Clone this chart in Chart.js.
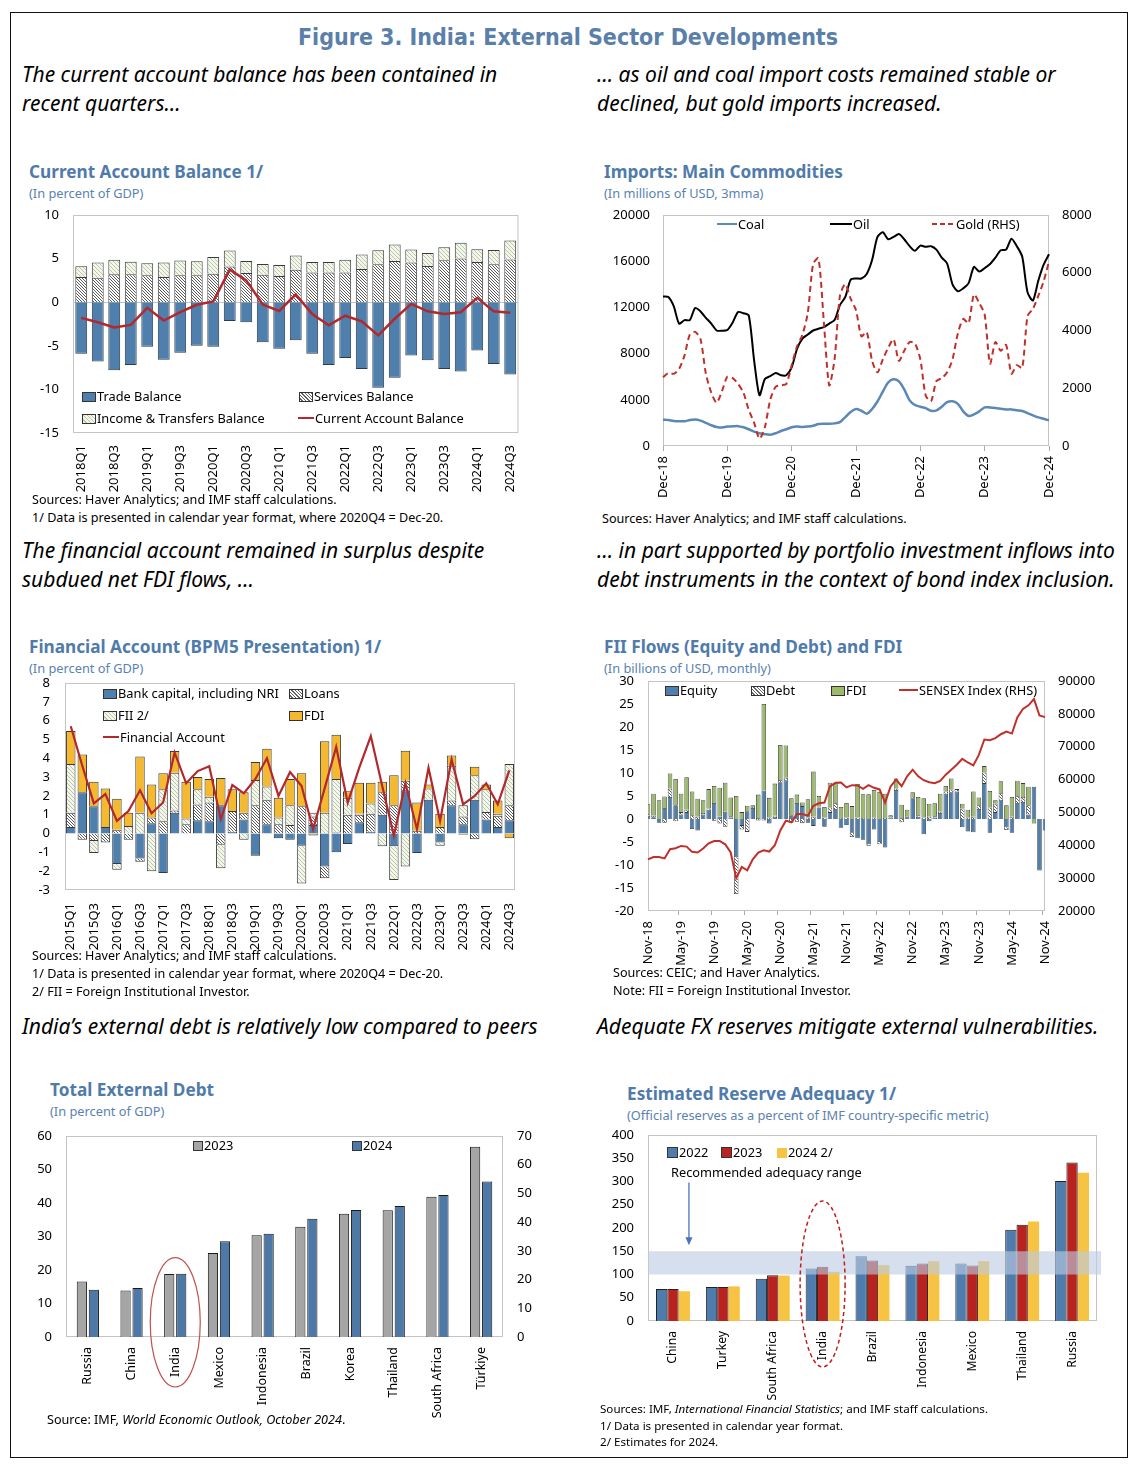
<!DOCTYPE html>
<html>
<head>
<meta charset="utf-8">
<script src="https://cdn.jsdelivr.net/npm/chart.js@4.4.1/dist/chart.umd.min.js"></script>
<style>
body{margin:0;background:#fff;width:1136px;height:1470px;position:relative;font-family:"Noto Sans",sans-serif;color:#000;}
#frame{position:absolute;left:10px;top:12px;width:1116px;height:1444px;border:1.5px solid #111;}
.t{position:absolute;white-space:nowrap;line-height:1;}
.fig{left:0;width:1136px;text-align:center;font-family:"Liberation Sans Narrow","DejaVu Sans Condensed",sans-serif;font-weight:bold;font-size:23px;color:#5a80aa;}
.cap{font-style:italic;font-size:21px;}
.ttl{font-weight:bold;font-size:17.2px;color:#4f7bab;}
.sub{font-size:12.8px;color:#5a82b0;}
.src{font-size:12.6px;}
.cv{position:absolute;}
.lg{position:absolute;font-size:12.8px;white-space:nowrap;line-height:1;}
.sw{display:inline-block;width:12px;height:8px;border:1px solid #333;vertical-align:-1px;margin-right:1px;}
.ln{display:inline-block;width:16px;height:2px;vertical-align:4px;margin-right:1px;}
</style>
</head>
<body>
<div id="frame"></div>

<div class="t fig" style="top:26px">Figure 3. India: External Sector Developments</div>

<div class="t cap" style="left:22px;top:64px">The current account balance has been contained in</div>
<div class="t cap" style="left:22px;top:93px">recent quarters…</div>
<div class="t cap" style="left:597px;top:64px">… as oil and coal import costs remained stable or</div>
<div class="t cap" style="left:597px;top:93px">declined, but gold imports increased.</div>

<div class="t ttl" style="left:29px;top:163px">Current Account Balance 1/</div>
<div class="t sub" style="left:29px;top:187px">(In percent of GDP)</div>
<div class="t ttl" style="left:604px;top:163px">Imports: Main Commodities</div>
<div class="t sub" style="left:604px;top:187px">(In millions of USD, 3mma)</div>

<canvas id="c1" class="cv" style="left:20px;top:204px" width="510" height="291"></canvas>
<canvas id="c2" class="cv" style="left:600px;top:204px" width="520" height="297"></canvas>

<div class="lg" style="left:82px;top:390px"><span class="sw" style="background:#4f7fac"></span>Trade Balance</div>
<div class="lg" style="left:299px;top:390px"><span class="sw" style="background:repeating-linear-gradient(45deg,#fff 0 1.4px,#666 1.4px 2.4px)"></span>Services Balance</div>
<div class="lg" style="left:82px;top:412px"><span class="sw" style="background:repeating-linear-gradient(45deg,#f3f6ec 0 2px,#b9c8a3 2px 3px)"></span>Income &amp; Transfers Balance</div>
<div class="lg" style="left:298px;top:412px"><span class="ln" style="background:#b3282d"></span>Current Account Balance</div>

<div class="lg" style="left:717px;top:218px"><span class="ln" style="background:#5b88b5;width:20px"></span>Coal</div>
<div class="lg" style="left:830px;top:218px"><span class="ln" style="background:#000;width:22px"></span>Oil</div>
<div class="lg" style="left:932px;top:218px"><span class="ln" style="background:repeating-linear-gradient(90deg,#c0302a 0 5px,transparent 5px 8px);width:23px"></span>Gold (RHS)</div>

<div class="t src" style="left:32px;top:494px">Sources: Haver Analytics; and IMF staff calculations.</div>
<div class="t src" style="left:32px;top:512px">1/ Data is presented in calendar year format, where 2020Q4 = Dec-20.</div>
<div class="t src" style="left:602px;top:513px">Sources: Haver Analytics; and IMF staff calculations.</div>

<div class="t cap" style="left:22px;top:540px">The financial account remained in surplus despite</div>
<div class="t cap" style="left:22px;top:569px">subdued net FDI flows, …</div>
<div class="t cap" style="left:597px;top:540px">… in part supported by portfolio investment inflows into</div>
<div class="t cap" style="left:597px;top:569px">debt instruments in the context of bond index inclusion.</div>

<div class="t ttl" style="left:29px;top:638px">Financial Account (BPM5 Presentation) 1/</div>
<div class="t sub" style="left:29px;top:662px">(In percent of GDP)</div>
<div class="t ttl" style="left:604px;top:638px">FII Flows (Equity and Debt) and FDI</div>
<div class="t sub" style="left:604px;top:662px">(In billions of USD, monthly)</div>

<canvas id="c3" class="cv" style="left:20px;top:672px" width="510" height="283"></canvas>
<canvas id="c4" class="cv" style="left:600px;top:670px" width="515" height="298"></canvas>

<div class="lg" style="left:103px;top:687px"><span class="sw" style="background:#4f7fac"></span>Bank capital, including NRI</div>
<div class="lg" style="left:289px;top:687px"><span class="sw" style="background:repeating-linear-gradient(45deg,#fff 0 1.4px,#666 1.4px 2.4px)"></span>Loans</div>
<div class="lg" style="left:103px;top:709px"><span class="sw" style="background:repeating-linear-gradient(45deg,#f3f6ec 0 2px,#b9c8a3 2px 3px)"></span>FII 2/</div>
<div class="lg" style="left:289px;top:709px"><span class="sw" style="background:#f4b92e"></span>FDI</div>
<div class="lg" style="left:103px;top:731px"><span class="ln" style="background:#b3282d"></span>Financial Account</div>

<div class="lg" style="left:665px;top:684px"><span class="sw" style="background:#4f7fac"></span>Equity</div>
<div class="lg" style="left:751px;top:684px"><span class="sw" style="background:repeating-linear-gradient(45deg,#fff 0 1.4px,#666 1.4px 2.4px)"></span>Debt</div>
<div class="lg" style="left:831px;top:684px"><span class="sw" style="background:#9bbb6a"></span>FDI</div>
<div class="lg" style="left:899px;top:684px"><span class="ln" style="background:#c0302a;width:19px"></span>SENSEX Index (RHS)</div>

<div class="t src" style="left:32px;top:950px">Sources: Haver Analytics; and IMF staff calculations.</div>
<div class="t src" style="left:32px;top:968px">1/ Data is presented in calendar year format, where 2020Q4 = Dec-20.</div>
<div class="t src" style="left:32px;top:986px">2/ FII = Foreign Institutional Investor.</div>
<div class="t src" style="left:613px;top:967px">Sources: CEIC; and Haver Analytics.</div>
<div class="t src" style="left:613px;top:985px">Note: FII = Foreign Institutional Investor.</div>

<div class="t cap" style="left:22px;top:1016px">India’s external debt is relatively low compared to peers</div>
<div class="t cap" style="left:597px;top:1016px">Adequate FX reserves mitigate external vulnerabilities.</div>

<div class="t ttl" style="left:50px;top:1081px">Total External Debt</div>
<div class="t sub" style="left:50px;top:1105px">(In percent of GDP)</div>
<div class="t ttl" style="left:627px;top:1085px">Estimated Reserve Adequacy 1/</div>
<div class="t sub" style="left:627px;top:1109px">(Official reserves as a percent of IMF country-specific metric)</div>

<canvas id="c5" class="cv" style="left:20px;top:1125px" width="525" height="306"></canvas>
<canvas id="c6" class="cv" style="left:600px;top:1124px" width="505" height="289"></canvas>

<div class="lg" style="left:193px;top:1139px"><span class="sw" style="background:#a5a5a5;width:8px"></span>2023</div>
<div class="lg" style="left:352px;top:1139px"><span class="sw" style="background:#4e79a7;width:8px"></span>2024</div>

<div class="lg" style="left:667px;top:1146px"><span class="sw" style="background:#4f7cac;width:9px;height:9px"></span>2022</div>
<div class="lg" style="left:721px;top:1146px"><span class="sw" style="background:#b8231f;width:9px;height:9px"></span>2023</div>
<div class="lg" style="left:777px;top:1146px"><span class="sw" style="background:#f6c342;width:10px;height:10px;border:none"></span>2024 2/</div>
<div class="lg" style="left:671px;top:1166px">Recommended adequacy range</div>

<div class="t src" style="left:47px;top:1414px">Source: IMF, <i>World Economic Outlook, October 2024</i>.</div>
<div class="t src" style="left:600px;top:1403px;font-size:11.6px">Sources: IMF, <i>International Financial Statistics</i>; and IMF staff calculations.</div>
<div class="t src" style="left:600px;top:1420px;font-size:11.6px">1/ Data is presented in calendar year format.</div>
<div class="t src" style="left:600px;top:1436px;font-size:11.6px">2/ Estimates for 2024.</div>

<script>
// ---------- labels ----------
const MON = ['Jan','Feb','Mar','Apr','May','Jun','Jul','Aug','Sep','Oct','Nov','Dec'];
function monthLabels(startMon, startYr, n) {
    const out = [];
    for (let i = 0; i < n; i++) {
        const m = (startMon + i) % 12;
        const y = startYr + Math.floor((startMon + i) / 12);
        out.push(MON[m] + '-' + y);
    }
    return out;
}
function quarterLabels(startYr, n) {
    const out = [];
    for (let i = 0; i < n; i++) out.push((startYr + Math.floor(i / 4)) + 'Q' + (i % 4 + 1));
    return out;
}

// ---------- Current account (percent of GDP), 2018Q1-2024Q3 ----------
const caQuarters = quarterLabels(2018, 27);
const caTrade    = [-5.9,-6.8,-7.8,-7.2,-5.1,-6.6,-5.8,-5.0,-5.1,-2.15,-2.3,-4.6,-5.35,-4.35,-5.9,-7.2,-6.4,-7.65,-9.8,-8.65,-6.1,-6.65,-7.65,-7.95,-5.55,-7.1,-8.3];
const caServices = [2.88,2.8,3.2,3.2,3.1,2.9,3.1,3.08,3.27,4.1,3.35,3.15,3.0,3.73,3.4,3.4,3.4,3.8,4.35,4.73,4.55,4.15,4.8,5.0,4.6,4.35,4.9];
const caIncome   = [1.24,1.74,1.68,1.45,1.36,1.64,1.67,1.61,1.92,1.82,1.38,1.23,1.27,1.62,1.22,1.22,1.48,1.66,1.61,1.89,1.49,1.5,1.51,1.81,1.48,1.65,2.18];
const caBalance  = [-1.8,-2.3,-2.9,-2.6,-0.65,-2.1,-1.15,-0.3,0.08,3.73,2.5,-0.27,-1.0,0.9,-1.35,-2.65,-1.55,-2.2,-3.8,-1.9,-0.2,-1.05,-1.35,-1.15,0.5,-1.05,-1.2];

// ---------- Imports (USD mn, 3mma), Dec-18 to Dec-24 ----------
const impMonths = monthLabels(11, 18, 73);
const impCoal = [2280,2250,2170,2140,2140,2250,2300,2200,2000,1800,1650,1600,1680,1700,1720,1620,1450,1250,1100,1020,980,1100,1300,1450,1620,1680,1650,1680,1750,1900,1930,1930,1960,2070,2500,2950,3200,3050,2800,3200,3850,4700,5500,5780,5600,4900,3950,3550,3400,3280,3050,3080,3400,3800,3870,3650,3000,2600,2740,3000,3350,3330,3290,3230,3170,3170,3100,3030,2850,2650,2480,2360,2220];
const impOil  = [12950,12900,12100,10600,10900,10900,11950,11650,11100,10600,10000,9980,10050,10700,11600,11500,11300,7400,4400,5800,6040,6330,6130,6130,6800,8400,9300,9650,10000,10150,10300,10600,10900,12200,12900,14400,14500,14500,14900,16100,18100,18500,17900,18100,18350,17900,17300,16900,17350,17250,17300,17000,16300,15800,14000,13400,13650,14100,15500,15100,15400,15750,16300,16950,17000,17950,17300,16400,13300,12600,14300,15700,16600];
const impGold = [2380,2530,2500,2670,3130,3860,3950,3700,2500,1850,1500,1900,2400,2350,2150,1850,1250,800,250,650,1600,2050,2100,2150,2800,3450,3850,4600,6300,6500,4300,2100,3000,5200,5600,5100,4700,3800,3950,2950,2550,3000,3400,3700,2950,3300,3600,3550,3000,1750,1550,2250,2350,2550,3000,3900,4400,4250,5250,4950,4550,2850,3600,3300,3500,2500,2800,2700,4500,4750,5200,5700,6400];

// ---------- Financial account (percent of GDP), 2015Q1-2024Q3 ----------
const faQuarters = quarterLabels(2015, 39);
const faBank  = [0.35,2.2,1.45,0.35,-1.62,0,-1.32,0.55,-2.1,1.1,0,0.7,0.65,1.5,0.1,0.75,-1.18,0.5,-0.25,-0.33,-0.65,0.45,-1.75,-1.0,-0.56,0.6,0.1,1.0,-0.68,2.3,-1.03,1.8,-0.47,1.5,0.5,1.8,0.75,0.35,0.7];
const faLoans = [0.75,-0.33,-0.39,-0.47,0.2,-0.33,-0.18,0.3,0.65,0.13,0.5,0.85,1.0,-0.6,1.1,0.35,1.5,1.3,0.5,0.45,1.45,0.45,-0.62,0.05,1.0,0.4,0.95,1.2,1.5,0.5,0.15,0,0.35,0.25,0.4,-0.3,0.4,0.6,0.8];
const faFII   = [2.6,0,-0.65,0,-0.3,0.4,1.1,-2.0,1.7,2.0,0.3,0.8,0.3,-1.25,0,-0.33,1.35,0.7,0.35,1.05,-2.0,0.2,1.1,2.85,0.9,0.05,0.55,-0.68,-1.79,-1.75,0,0.6,-0.18,1.85,0.6,1.3,1.2,0.1,2.2];
const faFDI   = [1.75,2.0,1.3,2.05,1.65,0.7,3.0,1.75,0.85,1.15,1.95,0.65,0.95,1.45,1.15,1.1,0.95,2.0,1.05,1.4,1.75,-0.1,3.8,2.35,0.35,1.65,1.1,0.55,1.6,1.6,1.5,0.2,0.7,0.55,-0.07,0.45,0.25,0.7,-0.25];
const faTotal = [5.7,3.6,1.6,2.1,0.67,1.2,2.3,1.08,1.65,4.3,2.67,3.32,3.58,0.76,2.58,2.14,2.9,4.0,2.0,3.27,2.53,0.23,2.4,4.6,1.64,3.5,5.18,2.5,-0.12,2.67,0.23,3.5,0.67,3.94,1.55,2.0,2.67,1.55,3.36];

// ---------- FII flows and FDI (USD bn, monthly), Nov-18 to Nov-24 ----------
const fiiMonths = monthLabels(10, 18, 73);
const fiiEquity = [0.7,0.4,-0.8,2.4,4.8,3.0,1.0,1.5,-2.2,-2.5,1.0,2.0,3.5,0.5,1.6,0.3,-8.3,-1.5,1.7,2.4,0.2,6.2,-1.0,0.5,8.0,8.4,0.8,3.5,2.8,-0.8,-1.5,2.5,-1.7,1.5,2.2,-1.9,-1.3,-3.0,-4.2,-4.5,-5.5,-2.3,-5.0,-6.2,0.3,6.3,0.2,0.4,4.5,0.5,-3.3,-0.5,0.3,1.3,5.5,5.8,6.0,-1.8,-2.7,-2.9,2.2,7.8,-3.0,1.5,4.2,-1.8,-3.0,3.5,3.7,1.0,7.0,-11.2,-2.5];
const fiiDebt   = [0.5,0.3,0,-0.8,1.8,-0.5,0.5,0.5,0.8,0.5,0.3,0.3,-0.4,-1.0,-1.7,0.3,-8.0,-0.8,-2.8,0.2,-0.3,-0.3,0.3,0.2,0.5,0.6,-0.8,-0.6,-0.9,0.3,0.5,0.2,0.3,1.0,1.3,0.2,0.3,-0.9,0.3,0.2,-0.3,0.3,-0.5,0.2,0.1,0.3,-0.7,0.2,0.3,0.3,0.3,0.5,0.3,0.3,0.5,0.6,0.5,2.3,0.3,0.5,0.8,2.3,2.5,1.8,1.4,-0.6,0.5,1.5,1.1,2.0,0,0,0];
const fiiFDI    = [2.0,4.8,4.1,2.5,3.3,5.7,4.0,7.1,5.2,3.9,2.8,4.2,3.7,6.3,6.3,4.1,5.0,1.5,1.2,0.4,5.1,18.8,4.3,7.0,7.6,7.0,3.7,1.8,0.8,4.0,9.8,2.3,2.3,5.4,4.4,2.4,3.2,2.8,7.3,5.2,5.4,6.0,5.9,5.3,0.4,2.2,2.9,1.4,1.0,4.0,4.2,2.8,2.8,3.9,1.2,2.4,0,1.0,1.7,5.5,1.7,1.4,3.6,0.8,2.6,3.0,4.3,3.3,3.0,4.0,-1.0,0,0];
const sensex    = [35700,36400,36400,36000,38800,39100,39800,39600,38000,37800,39000,40600,41300,41300,40300,37800,30000,33400,32400,35700,37800,38500,38100,40000,44500,47500,47000,49500,49500,49000,52000,52800,53000,57900,59000,59100,57600,58300,58200,57200,58300,57500,57000,53000,57900,60000,58000,61000,63000,61000,59800,59200,58900,59600,61500,63000,64500,66300,65200,64300,67500,72200,72000,72600,73800,74600,74000,79000,81500,82600,84500,79500,79000];

// ---------- External debt (percent of GDP) ----------
const debtCountries = ['Russia','China','India','Mexico','Indonesia','Brazil','Korea','Thailand','South Africa','Türkiye'];
const debt2023 = [16.6,13.9,18.8,25.1,30.4,32.9,36.8,37.8,41.9,56.8];
const debt2024 = [14.1,14.6,18.9,28.6,30.8,35.3,37.9,39.1,42.4,46.4];

// ---------- Reserve adequacy (percent of IMF metric) ----------
const raCountries = ['China','Turkey','South Africa','India','Brazil','Indonesia','Mexico','Thailand','Russia'];
const ra2022 = [68.6,73,91,112.9,139,119,123.6,196,301];
const ra2023 = [68.6,73,98.6,116.4,130,123.6,119.3,207,340.7];
const ra2024 = [64,74.5,97.8,105.7,120,128.6,128.6,214,319];
const adequacyRange = [100,150];

// ---------- shared setup ----------
Chart.defaults.font.family = '"Noto Sans", sans-serif';
Chart.defaults.font.size = 13;
Chart.defaults.color = '#000';
Chart.defaults.animation = false;
Chart.defaults.plugins.legend.display = false;
Chart.defaults.plugins.tooltip.enabled = false;

function hatch(bg, fg, size, lw) {
    const c = document.createElement('canvas');
    c.width = c.height = size;
    const x = c.getContext('2d');
    x.fillStyle = bg;
    x.fillRect(0, 0, size, size);
    x.strokeStyle = fg;
    x.lineWidth = lw;
    x.beginPath();
    x.moveTo(0, 0); x.lineTo(size, size);
    x.moveTo(-1, size - 1); x.lineTo(1, size + 1);
    x.moveTo(size - 1, -1); x.lineTo(size + 1, 1);
    x.stroke();
    return x.createPattern(c, 'repeat');
}
const darkHatch  = hatch('#ffffff', '#5a5a5a', 3, 1);
const greenHatch = hatch('#f3f6ec', '#b9c8a3', 4, 1);

// light grey box round the plot (and optional zero line)
const framePlugin = {
    id: 'frame',
    beforeDatasetsDraw(chart, args, opts) {
        const a = chart.chartArea, ctx = chart.ctx;
        ctx.save();
        ctx.strokeStyle = '#c4c4c4';
        ctx.lineWidth = 1;
        ctx.strokeRect(a.left + 0.5, a.top + 0.5, a.width - 1, a.height - 1);
        if (opts && opts.zero) {
            const y0 = Math.round(chart.scales.y.getPixelForValue(0)) + 0.5;
            ctx.beginPath(); ctx.moveTo(a.left, y0); ctx.lineTo(a.right, y0); ctx.stroke();
        }
        ctx.restore();
    }
};

const fixW = w => s => { s.width = w; };
const fixH = h => s => { s.height = h; };
const every = n => function (v, i) { return i % n === 0 ? this.getLabelForValue(v) : ''; };
const plain = v => String(v);
const noBorder = { display: false };
// value axes: gap between labels and plot made with a hidden tick length
const yGrid = gap => ({ display: false, drawTicks: true, tickLength: gap });
const vTicks = (step) => ({ stepSize: step, padding: 3, autoSkip: false, callback: plain });
// rotated category labels
const xTicks = (pad, cb, size) => {
    const t = { autoSkip: false, minRotation: 90, maxRotation: 90, padding: pad };
    if (cb) t.callback = cb;
    if (size) t.font = { size: size };
    return t;
};

// ---------- Chart 1 ----------
new Chart(document.getElementById('c1'), {
    type: 'bar',
    data: {
        labels: caQuarters,
        datasets: [
            { type: 'line', label: 'Current Account Balance', data: caBalance, borderColor: '#b3282d', borderWidth: 2.5, pointRadius: 0, stack: 'line', order: 0 },
            { label: 'Trade Balance', data: caTrade, backgroundColor: '#4f7fac', borderColor: '#2e3a46', borderWidth: 1, stack: 'ca', order: 1 },
            { label: 'Services Balance', data: caServices, backgroundColor: darkHatch, borderColor: '#3a3a3a', borderWidth: 1, stack: 'ca', order: 1 },
            { label: 'Income & Transfers Balance', data: caIncome, backgroundColor: greenHatch, borderColor: '#3a3a3a', borderWidth: 1, stack: 'ca', order: 1 }
        ]
    },
    options: {
        responsive: false,
        layout: { padding: { top: 11, right: 9, left: 0, bottom: 0 } },
        datasets: { bar: { barPercentage: 0.72, categoryPercentage: 1 } },
        plugins: { frame: { zero: true } },
        scales: {
            x: { stacked: true, grid: { display: false, tickLength: 8 }, border: noBorder, afterFit: fixH(62), ticks: xTicks(4, every(2)) },
            y: { stacked: true, min: -15, max: 10, grid: yGrid(11), border: noBorder, afterFit: fixW(53), ticks: vTicks(5) }
        }
    },
    plugins: [framePlugin]
});

// ---------- Chart 2 ----------
new Chart(document.getElementById('c2'), {
    type: 'line',
    data: {
        labels: impMonths,
        datasets: [
            { label: 'Gold (RHS)', data: impGold, yAxisID: 'y2', borderColor: '#c0302a', borderWidth: 2, borderDash: [6, 4], pointRadius: 0, tension: 0.25 },
            { label: 'Oil', data: impOil, borderColor: '#000', borderWidth: 2, pointRadius: 0, tension: 0.25 },
            { label: 'Coal', data: impCoal, borderColor: '#5b88b5', borderWidth: 2.5, pointRadius: 0, tension: 0.3 }
        ]
    },
    options: {
        responsive: false,
        layout: { padding: { top: 11, right: 0, left: 0, bottom: 0 } },
        scales: {
            x: { offset: false, border: noBorder, afterFit: fixH(55),
                 grid: { drawOnChartArea: false, tickLength: 5, color: c => c.index % 12 === 0 ? '#aaa' : 'rgba(0,0,0,0)' },
                 ticks: xTicks(5, every(12)) },
            y: { min: 0, max: 20000, grid: yGrid(10), border: noBorder, afterFit: fixW(63), ticks: vTicks(4000) },
            y2: { position: 'right', min: 0, max: 8000, grid: yGrid(10), border: noBorder, afterFit: fixW(71), ticks: vTicks(2000) }
        }
    },
    plugins: [framePlugin]
});

// ---------- Chart 3 ----------
new Chart(document.getElementById('c3'), {
    type: 'bar',
    data: {
        labels: faQuarters,
        datasets: [
            { type: 'line', label: 'Financial Account', data: faTotal, borderColor: '#b3282d', borderWidth: 2.2, pointRadius: 0, stack: 'line', order: 0 },
            { label: 'Bank capital, including NRI', data: faBank, backgroundColor: '#4f7fac', borderColor: '#2e3a46', borderWidth: 1, stack: 'fa', order: 1 },
            { label: 'Loans', data: faLoans, backgroundColor: darkHatch, borderColor: '#3a3a3a', borderWidth: 1, stack: 'fa', order: 1 },
            { label: 'FII 2/', data: faFII, backgroundColor: greenHatch, borderColor: '#3a3a3a', borderWidth: 1, stack: 'fa', order: 1 },
            { label: 'FDI', data: faFDI, backgroundColor: '#f4b92e', borderColor: '#3a3a3a', borderWidth: 1, stack: 'fa', order: 1 }
        ]
    },
    options: {
        responsive: false,
        layout: { padding: { top: 11, right: 9, left: 0, bottom: 0 } },
        datasets: { bar: { barPercentage: 0.82, categoryPercentage: 1 } },
        scales: {
            x: { stacked: true, grid: { display: false, tickLength: 8 }, border: noBorder, afterFit: fixH(65), ticks: xTicks(5, every(2)) },
            y: { stacked: true, min: -3, max: 8, grid: yGrid(12), border: noBorder, afterFit: fixW(45), ticks: vTicks(1) }
        }
    },
    plugins: [framePlugin]
});

// ---------- Chart 4 ----------
new Chart(document.getElementById('c4'), {
    type: 'bar',
    data: {
        labels: fiiMonths,
        datasets: [
            { type: 'line', label: 'SENSEX Index (RHS)', data: sensex, yAxisID: 'y2', borderColor: '#c0302a', borderWidth: 2, pointRadius: 0, stack: 'line', order: 0 },
            { label: 'Equity', data: fiiEquity, backgroundColor: '#4f7fac', borderColor: '#2e3a46', borderWidth: 0.8, stack: 'f', order: 1 },
            { label: 'Debt', data: fiiDebt, backgroundColor: darkHatch, borderColor: '#3a3a3a', borderWidth: 0.8, stack: 'f', order: 1 },
            { label: 'FDI', data: fiiFDI, backgroundColor: '#9bbb6a', borderColor: '#3a3a3a', borderWidth: 0.8, stack: 'f', order: 1 }
        ]
    },
    options: {
        responsive: false,
        layout: { padding: { top: 11, right: 0, left: 0, bottom: 0 } },
        datasets: { bar: { barPercentage: 0.82, categoryPercentage: 1 } },
        scales: {
            x: { stacked: true, offset: false, border: noBorder, afterFit: fixH(57),
                 grid: { drawOnChartArea: false, tickLength: 4, color: c => c.index % 6 === 0 ? '#aaa' : 'rgba(0,0,0,0)' },
                 ticks: xTicks(6, every(6)) },
            y: { stacked: true, min: -20, max: 30, grid: yGrid(11), border: noBorder, afterFit: fixW(48), ticks: vTicks(5) },
            y2: { position: 'right', min: 20000, max: 90000, grid: yGrid(10), border: noBorder, afterFit: fixW(70), ticks: vTicks(10000) }
        }
    },
    plugins: [framePlugin]
});

// ---------- Chart 5 ----------
const indiaRing = {
    id: 'indiaRing',
    afterDraw(chart) {
        const x = chart.scales.x, y = chart.scales.y, ctx = chart.ctx;
        const cx = x.getPixelForValue(2);
        const top = y.getPixelForValue(23.7), bottom = y.getPixelForValue(0) + 50;
        ctx.save();
        ctx.strokeStyle = '#c0504d';
        ctx.lineWidth = 1.2;
        ctx.beginPath();
        ctx.ellipse(cx, (top + bottom) / 2, 25, (bottom - top) / 2, 0, 0, Math.PI * 2);
        ctx.stroke();
        ctx.restore();
    }
};
new Chart(document.getElementById('c5'), {
    type: 'bar',
    data: {
        labels: debtCountries,
        datasets: [
            { label: '2023', data: debt2023, backgroundColor: '#a5a5a5', borderColor: '#1a1a1a', borderWidth: 1 },
            { label: '2024', data: debt2024, backgroundColor: '#4e79a7', borderColor: '#1a1a1a', borderWidth: 1 }
        ]
    },
    options: {
        responsive: false,
        layout: { padding: { top: 11, right: 0, left: 0, bottom: 0 } },
        datasets: { bar: { barPercentage: 0.85, categoryPercentage: 0.55 } },
        scales: {
            x: { grid: { display: false, tickLength: 8 }, border: noBorder, afterFit: fixH(94), ticks: xTicks(2, null, 12.5) },
            y: { min: 0, max: 60, grid: yGrid(11), border: noBorder, afterFit: fixW(46), ticks: vTicks(10) },
            y2: { position: 'right', min: 0, max: 70, grid: yGrid(11), border: noBorder, afterFit: fixW(42), ticks: vTicks(10) }
        }
    },
    plugins: [framePlugin, indiaRing]
});

// ---------- Chart 6 ----------
const adequacyBand = {
    id: 'adequacyBand',
    afterDatasetsDraw(chart) {
        const a = chart.chartArea, y = chart.scales.y, ctx = chart.ctx;
        const y1 = y.getPixelForValue(adequacyRange[1]), y0 = y.getPixelForValue(adequacyRange[0]);
        ctx.save();
        ctx.fillStyle = 'rgba(188,203,228,0.62)';
        ctx.fillRect(a.left, y1, a.width + 4, y0 - y1);
        ctx.restore();
    },
    afterDraw(chart) {
        const x = chart.scales.x, y = chart.scales.y, ctx = chart.ctx;
        // arrow pointing at the band
        const ax = x.getPixelForValue(0) + 16;
        const ay0 = y.getPixelForValue(298), ay1 = y.getPixelForValue(163);
        ctx.save();
        ctx.strokeStyle = '#4a74c0';
        ctx.fillStyle = '#4a74c0';
        ctx.lineWidth = 1.3;
        ctx.beginPath(); ctx.moveTo(ax, ay0); ctx.lineTo(ax, ay1 - 6); ctx.stroke();
        ctx.beginPath(); ctx.moveTo(ax - 3.5, ay1 - 8); ctx.lineTo(ax + 3.5, ay1 - 8); ctx.lineTo(ax, ay1); ctx.closePath(); ctx.fill();
        // dashed ring round India
        const cx = x.getPixelForValue(3);
        const top = y.getPixelForValue(258), bottom = y.getPixelForValue(0) + 46;
        ctx.strokeStyle = '#c0201c';
        ctx.lineWidth = 1.5;
        ctx.setLineDash([4, 3]);
        ctx.beginPath();
        ctx.ellipse(cx, (top + bottom) / 2, 22.5, (bottom - top) / 2, 0, 0, Math.PI * 2);
        ctx.stroke();
        ctx.restore();
    }
};
new Chart(document.getElementById('c6'), {
    type: 'bar',
    data: {
        labels: raCountries,
        datasets: [
            { label: '2022', data: ra2022, backgroundColor: '#4f7cac', borderColor: '#222', borderWidth: 1 },
            { label: '2023', data: ra2023, backgroundColor: '#b8231f', borderColor: '#222', borderWidth: 1 },
            { label: '2024 2/', data: ra2024, backgroundColor: '#f6c342', borderWidth: 0 }
        ]
    },
    options: {
        responsive: false,
        layout: { padding: { top: 11, right: 8, left: 0, bottom: 0 } },
        datasets: { bar: { barPercentage: 1, categoryPercentage: 0.68 } },
        scales: {
            x: { grid: { display: false, tickLength: 8 }, border: noBorder, afterFit: fixH(92), ticks: xTicks(2, null, 12.2) },
            y: { min: 0, max: 400, grid: yGrid(11), border: noBorder, afterFit: fixW(48), ticks: vTicks(50) }
        }
    },
    plugins: [framePlugin, adequacyBand]
});
</script>
</body>
</html>
